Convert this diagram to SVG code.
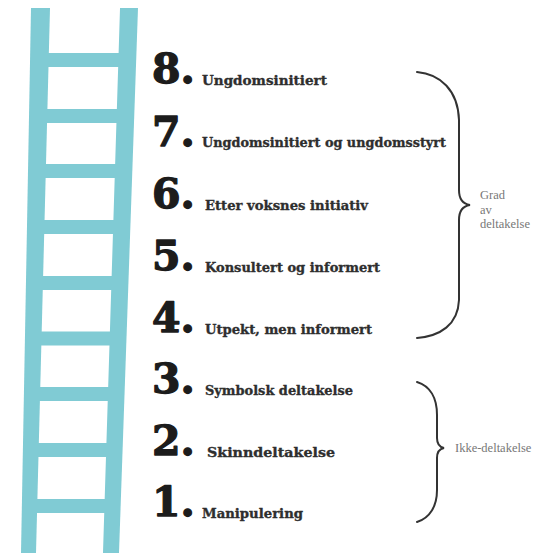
<svg xmlns="http://www.w3.org/2000/svg" width="539" height="553" viewBox="0 0 539 553">
<style>
.rail{fill:#80cbd4}
.num{font-family:"DejaVu Serif",serif;font-weight:bold;font-size:41px;fill:#1c1c1c;stroke:#1c1c1c;stroke-width:1.3;stroke-linejoin:round}
.lbl{font-family:"DejaVu Serif",serif;font-weight:bold;font-size:13.5px;fill:#2e2e2e;stroke:#2e2e2e;stroke-width:0.35}
.side{font-family:"Liberation Serif",serif;font-size:12.5px;fill:#777}
.brace{fill:none;stroke:#333;stroke-width:2;stroke-linecap:round}
</style>
<rect width="539" height="553" fill="#fff"/>
<g id="ladder">
<polygon class="rail" points="31,8 50,8 36,553 21,553"/>
<polygon class="rail" points="120,8 138,8 119,553 103,553"/>
<rect class="rail" x="45" y="53" width="76" height="14"/>
<rect class="rail" x="44" y="109" width="76" height="14"/>
<rect class="rail" x="42.5" y="164" width="75.5" height="14"/>
<rect class="rail" x="41" y="220" width="75" height="14"/>
<rect class="rail" x="39.5" y="276" width="75" height="14"/>
<rect class="rail" x="38" y="331.5" width="75" height="14"/>
<rect class="rail" x="37" y="387" width="74" height="14"/>
<rect class="rail" x="35.5" y="443" width="74" height="14"/>
<rect class="rail" x="34" y="499" width="74" height="14"/>
</g>
<g id="step8"><text class="num" x="152" y="83">8.</text><text class="lbl" x="202" y="85" textLength="125" lengthAdjust="spacingAndGlyphs">Ungdomsinitiert</text></g>
<g id="step7"><text class="num" x="152" y="146">7.</text><text class="lbl" x="202" y="147" textLength="244" lengthAdjust="spacingAndGlyphs">Ungdomsinitiert og ungdomsstyrt</text></g>
<g id="step6"><text class="num" x="152" y="208">6.</text><text class="lbl" x="205" y="210" textLength="163" lengthAdjust="spacingAndGlyphs">Etter voksnes initiativ</text></g>
<g id="step5"><text class="num" x="152" y="270">5.</text><text class="lbl" x="205" y="272" textLength="175" lengthAdjust="spacingAndGlyphs">Konsultert og informert</text></g>
<g id="step4"><text class="num" x="152" y="332">4.</text><text class="lbl" x="205" y="334" textLength="167" lengthAdjust="spacingAndGlyphs">Utpekt, men informert</text></g>
<g id="step3"><text class="num" x="152" y="393">3.</text><text class="lbl" x="205" y="395" textLength="148" lengthAdjust="spacingAndGlyphs">Symbolsk deltakelse</text></g>
<g id="step2"><text class="num" x="152" y="455">2.</text><text class="lbl" x="207" y="457" textLength="128" lengthAdjust="spacingAndGlyphs">Skinndeltakelse</text></g>
<g id="step1"><text class="num" x="152" y="516">1.</text><text class="lbl" x="202" y="518" textLength="101" lengthAdjust="spacingAndGlyphs">Manipulering</text></g>
<g id="connectors">
<path class="brace" d="M417,72 C440,74 458,90 459,120 L459,190 C459,200 463,204 470,205 C463,206 459,210 459,220 L459,300 C458,325 440,336 417,338"/>
<path class="brace" d="M417,382 C430,386 437,398 437,415 L437,438 C437,444 439,447 444,448 C439,449 437,452 437,458 L437,490 C437,506 430,518 417,522"/>
</g>
<g id="group-grad"><text class="side" x="480" y="199">Grad</text><text class="side" x="480" y="214">av</text><text class="side" x="480" y="228">deltakelse</text></g>
<g id="group-ikke"><text class="side" x="455" y="452">Ikke-deltakelse</text></g>
</svg>
